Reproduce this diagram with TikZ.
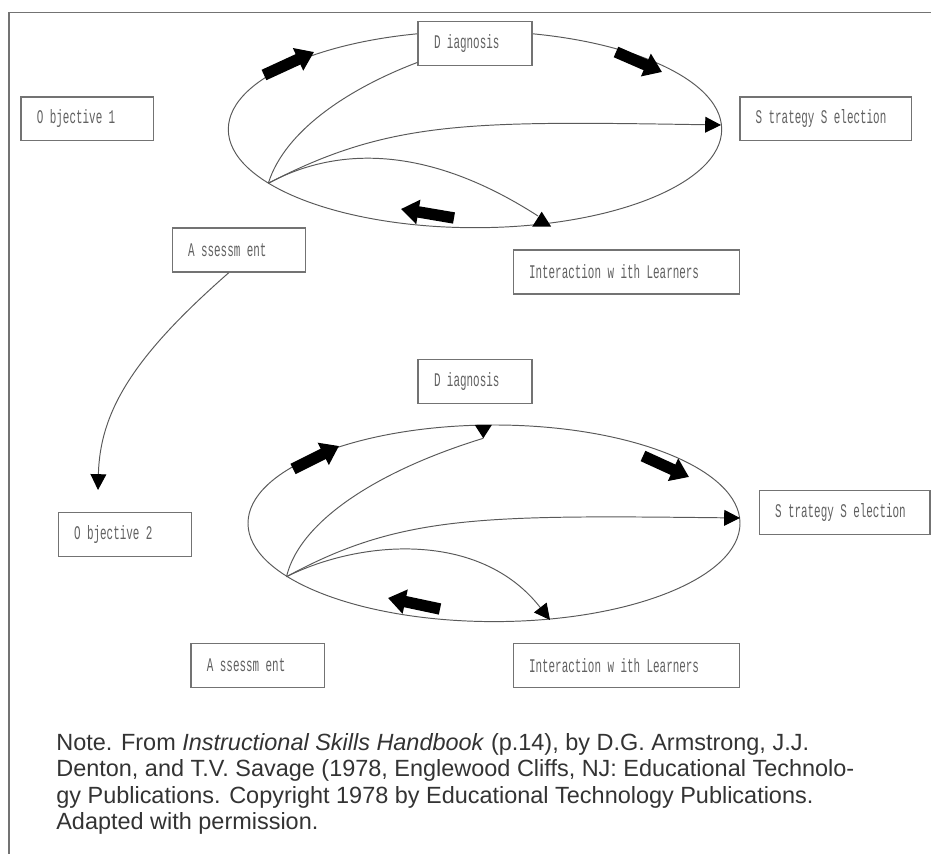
\documentclass[tikz,border=0pt]{standalone}
\usepackage{fontspec}
\setmainfont{Liberation Sans}
\newfontfamily\boxfont[FakeStretch=0.565]{Liberation Mono}
\usepackage{tikz}
\usetikzlibrary{calc}
\usetikzlibrary{arrows.meta}
\definecolor{linegray}{gray}{0.35}
\definecolor{boxgray}{gray}{0.45}
\definecolor{txtgray}{gray}{0.38}
\definecolor{notegray}{gray}{0.2}

\begin{document}
\begin{tikzpicture}[x=0.02cm, y=-0.02cm,
    ln/.style={draw=linegray, line width=0.55pt},
    frm/.style={draw=boxgray, line width=0.9pt},
    box/.style={rectangle, draw=boxgray, fill=white, line width=0.8pt,
      minimum height=0.88cm, inner xsep=9pt, inner ysep=0pt, align=left,
      font=\boxfont\fontsize{11}{12}\selectfont, text=txtgray},
    tip/.style={-{Triangle[length=9pt,width=9pt,color=black]}},
    blk/.style={draw=black, line width=6.5pt, -{Triangle[length=10pt,width=13.5pt]}},
    note/.style={align=left, inner sep=0pt, text=notegray,
      font=\fontsize{13.35}{15.1}\selectfont},
  ]
\useasboundingbox (0,0) rectangle (931,854);
\draw[frm] (9,854) |- (931,12.7);

% the two cycles
\draw[ln] (475,129.4) ellipse [x radius=246.7, y radius=98.3];
\draw[ln] (494,523.3) ellipse [x radius=246, y radius=98.3];

% Cycle 1
\node[box, text width=1.64cm] (dia1) at (475,43.7) {D iagnosis};
\node[box, text width=2.02cm] (obj1) at (87.4,118.8) {O bjective 1};
\node[box, text width=2.8cm]  (str1) at (825.6,118.8) {S trategy S election};
\node[box, text width=2.03cm] (ass1) at (238.8,250) {A ssessm ent};
\node[box, text width=3.9cm]  (int1) at (626.5,272) {Interaction w ith Learners};
% Cycle 2
\node[box, text width=1.64cm] (dia2) at (475,381.3) {D iagnosis};
\node[box, text width=2.03cm] (obj2) at (124.8,534.3) {O bjective 2};
\node[box, text width=2.78cm] (str2) at (844.5,512.5) {S trategy S election};
\node[box, text width=2.03cm] (ass2) at (257.7,665.3) {A ssessm ent};
\node[box, text width=3.9cm]  (int2) at (626.5,665.3) {Interaction w ith Learners};

\coordinate (hub1) at (268.3,183.3);
\coordinate (s1end) at (721,125);
\coordinate (i1end) at (538,216);
\coordinate (i1tri) at (541.7,211.7);
\coordinate (hub2) at (286.5,576.7);
\coordinate (d2tri) at (483.3,438.3);
\coordinate (s2end) at (740,518);
\coordinate (i2end) at (550,620);
\coordinate (o2end) at (98,490);

\draw[ln] (hub1) .. controls (285,130) and (350,88) .. ($(dia1.south west)+(0,-4)$);
\draw[ln,tip] (hub1) .. controls (390,120) and (470,121) .. (s1end);
\draw[ln] (hub1) .. controls (330,150) and (420,140) .. (i1end);
\fill (i1tri) -- ++(-9.5,15) -- ++(19,0) -- cycle;

\draw[ln] (hub2) .. controls (300,520) and (380,470) .. (d2tri);
\fill (d2tri) -- ++(-8.5,-13.3) -- ++(17,0) -- cycle;
\draw[ln,tip] (hub2) .. controls (400,515) and (480,515) .. (s2end);
\draw[ln,tip] (hub2) .. controls (360,540) and (480,530) .. (i2end);

\draw[ln,tip] ($(ass1.south)+(-10,0)$) .. controls (135,355) and (100,410) .. (o2end);

% block arrows round the cycles
\coordinate (up1a) at (264,75);  \coordinate (up1b) at (314,52);
\coordinate (rt1a) at (616,52);  \coordinate (rt1b) at (662,72);
\coordinate (lo1a) at (454,218); \coordinate (lo1b) at (401,209);
\coordinate (up2a) at (293,469); \coordinate (up2b) at (339,446);
\coordinate (rt2a) at (643,456); \coordinate (rt2b) at (689,477);
\coordinate (lo2a) at (440,609); \coordinate (lo2b) at (388,598);
\foreach \n in {up1, rt1, lo1, up2, rt2, lo2} {
  \draw[blk] (\n a) -- (\n b);
}

\node[note, anchor=north west] (src) at (56,733)
  {Note. From \textit{Instructional Skills Handbook} (p.14), by D.G. Armstrong, J.J.\\
   Denton, and T.V. Savage (1978, Englewood Cliffs, NJ: Educational Technolo-\\
   gy Publications. Copyright 1978 by Educational Technology Publications.\\
   Adapted with permission.};
\end{tikzpicture}
\end{document}
